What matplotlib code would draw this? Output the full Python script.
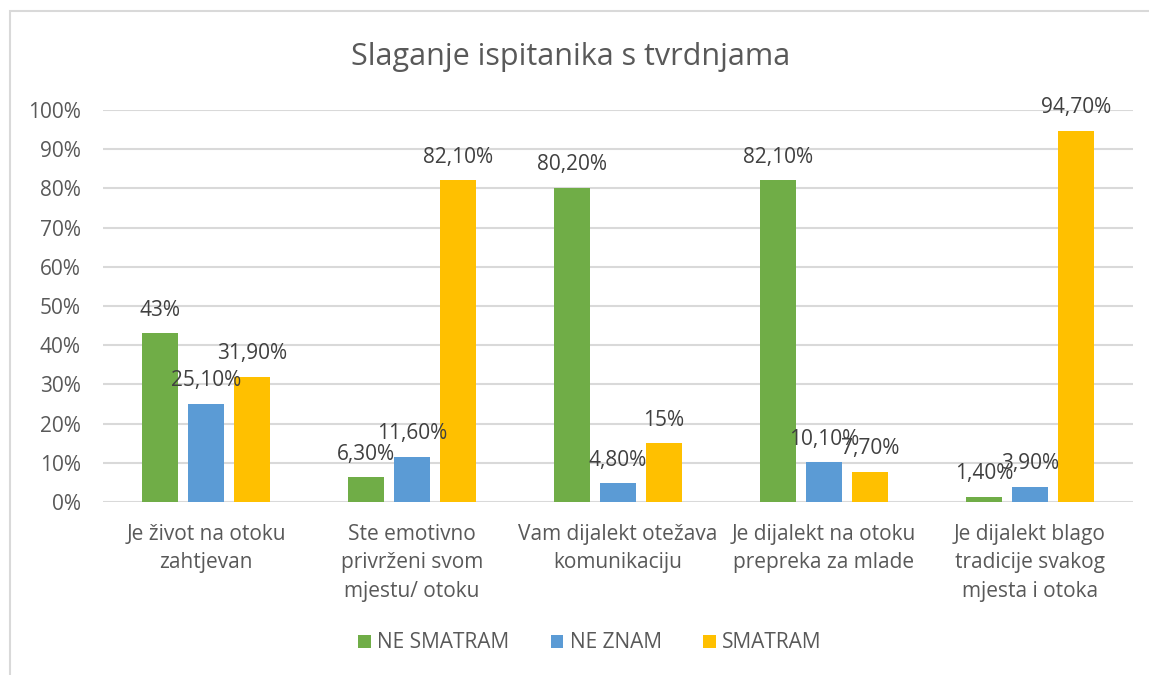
import numpy as np
import matplotlib
matplotlib.use('Agg')
import matplotlib.pyplot as plt
from matplotlib.patches import Rectangle

# podaci
categories = ["Je život na otoku\nzahtjevan",
              "Ste emotivno\nprivrženi svom\nmjestu/ otoku",
              "Vam dijalekt otežava\nkomunikaciju",
              "Je dijalekt na otoku\nprepreka za mlade",
              "Je dijalekt blago\ntradicije svakog\nmjesta i otoka"]
series_names = ["NE SMATRAM", "NE ZNAM", "SMATRAM"]
ne_smatram = [43.0, 6.3, 80.2, 82.1, 1.4]
ne_znam = [25.1, 11.6, 4.8, 10.1, 3.9]
smatram = [31.9, 82.1, 15.0, 7.7, 94.7]
label_ne_smatram = ["43%", "6,30%", "80,20%", "82,10%", "1,40%"]
label_ne_znam = ["25,10%", "11,60%", "4,80%", "10,10%", "3,90%"]
label_smatram = ["31,90%", "82,10%", "15%", "7,70%", "94,70%"]
yticks = [0, 10, 20, 30, 40, 50, 60, 70, 80, 90, 100]

colors = ["#70AD47", "#5B9BD5", "#FFC000"]
txt = "#595959"
plt.rcParams['font.family'] = ['Open Sans', 'DejaVu Sans']

fig = plt.figure(figsize=(11.49, 6.75), dpi=100)
W, H = 1149, 675
# okvir grafikona (odrezan desno i dolje)
fig.patches.append(Rectangle((10 / W, -0.1), 1.2, 1 - 11 / H + 0.1, transform=fig.transFigure,
                             fill=False, edgecolor="#D9D9D9", linewidth=1.5))

ax = fig.add_axes([103 / W, 1 - 502 / H, (1133 - 103) / W, (502 - 110) / H])
x = np.arange(len(categories))
bw = 0.175
off = 0.222
all_vals = [ne_smatram, ne_znam, smatram]
all_labels = [label_ne_smatram, label_ne_znam, label_smatram]
for i, (vals, labs) in enumerate(zip(all_vals, all_labels)):
    pos = x + (i - 1) * off
    ax.bar(pos, vals, bw, color=colors[i], label=series_names[i], zorder=3)
    for px, v, l in zip(pos, vals, labs):
        ax.annotate(l, (px, v), xytext=(0, 9), textcoords="offset points",
                    ha="center", va="bottom", fontsize=15, color="#404040", zorder=4)

ax.set_xlim(-0.5, len(categories) - 0.5)
ax.set_ylim(0, 100)
ax.set_yticks(yticks)
ax.set_yticklabels([f"{t}%" for t in yticks], fontsize=15, color=txt)
ax.set_xticks(x)
ax.set_xticklabels(categories, fontsize=15, color=txt, linespacing=1.45, va="top")
ax.tick_params(length=0, axis="y", pad=16)
ax.tick_params(length=0, axis="x", pad=16)
ax.grid(axis="y", color="#D9D9D9", linewidth=1.5, zorder=0)
for s in ax.spines.values():
    s.set_visible(False)

fig.text(571 / W, 1 - 57 / H, "Slaganje ispitanika s tvrdnjama", ha="center", va="center",
         fontsize=22, color=txt)

fig.legend(loc="center", bbox_to_anchor=(590 / W, 1 - 643 / H), ncol=3, frameon=False,
           fontsize=15, labelcolor=txt, handlelength=0.6, handleheight=0.6,
           handletextpad=0.3, columnspacing=2.0)

fig.savefig("out.png", dpi=100)
